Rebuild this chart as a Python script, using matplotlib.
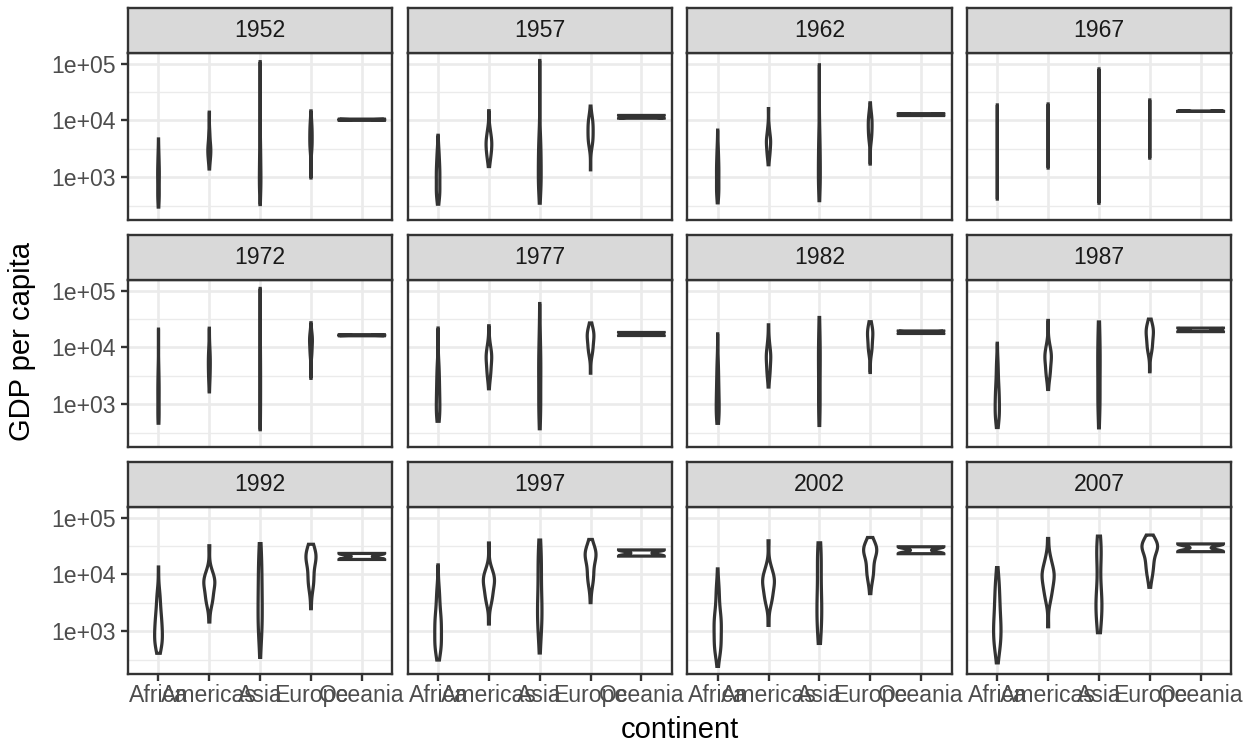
import numpy as np
import matplotlib
matplotlib.use('Agg')
import matplotlib.pyplot as plt
from matplotlib.ticker import FixedLocator, NullFormatter

plt.rcParams['font.family'] = ['Liberation Sans', 'DejaVu Sans']

years = [1952, 1957, 1962, 1967, 1972, 1977, 1982, 1987, 1992, 1997, 2002, 2007]
continents = ['Africa', 'Americas', 'Asia', 'Europe', 'Oceania']
n_countries = [52, 25, 33, 30, 2]

# gdpPercap, per year: min, q10, q25, median, q75, q90, max (read / estimated)
africa = [
    [299, 420, 535, 987, 1455, 2400, 4725],
    [336, 470, 590, 1024, 1600, 2700, 5487],
    [355, 510, 630, 1134, 1770, 3000, 6757],
    [413, 560, 670, 1210, 2120, 3500, 18773],
    [464, 600, 700, 1443, 2300, 4000, 21011],
    [502, 620, 790, 1400, 2600, 4700, 21951],
    [462, 600, 760, 1324, 2500, 4900, 17364],
    [390, 560, 700, 1220, 2100, 4600, 11864],
    [410, 560, 700, 1162, 2000, 4000, 13522],
    [312, 480, 620, 1180, 2000, 4500, 14723],
    [241, 450, 620, 1215, 2000, 5000, 12522],
    [278, 500, 800, 1452, 3200, 7000, 13206],
]
americas = [
    [1398, 1900, 2428, 3048, 3940, 5900, 13990],
    [1544, 2100, 2800, 3781, 4900, 6800, 14847],
    [1662, 2300, 3000, 4086, 5000, 7100, 16173],
    [1452, 2400, 3200, 4643, 5900, 8000, 19530],
    [1654, 2600, 3500, 5186, 7000, 10000, 21806],
    [1874, 3000, 4100, 6281, 7800, 11000, 24073],
    [2011, 3100, 4200, 6435, 8000, 12000, 25010],
    [1823, 3000, 4100, 6360, 7800, 11000, 29884],
    [1456, 3000, 4200, 6618, 8200, 11000, 32004],
    [1342, 3200, 4600, 7114, 9000, 12000, 35767],
    [1270, 3100, 4500, 6995, 9000, 13000, 39097],
    [1202, 3650, 5728, 8948, 11978, 18800, 42952],
]
asia = [
    [331, 600, 750, 1207, 2250, 4000, 108382],
    [350, 650, 800, 1548, 2900, 5000, 113523],
    [388, 700, 850, 1650, 3100, 6000, 95458],
    [349, 700, 900, 2029, 4000, 9000, 80895],
    [357, 700, 1000, 2571, 5000, 12000, 109348],
    [371, 750, 1000, 3195, 6500, 15000, 59265],
    [424, 800, 1200, 4106, 9000, 17000, 33693],
    [385, 850, 1300, 4106, 9000, 20000, 28118],
    [347, 900, 1500, 3726, 10000, 22000, 34932],
    [415, 1000, 1700, 3645, 12000, 25000, 40301],
    [611, 1000, 1800, 4091, 14000, 28000, 36023],
    [944, 1430, 2452, 4471, 22316, 29796, 47306],
]
europe = [
    [973, 3200, 3600, 5142, 7200, 9000, 14734],
    [1354, 3800, 4500, 6443, 9000, 11000, 17909],
    [1710, 4500, 5700, 7875, 10500, 13000, 20431],
    [2172, 5500, 7200, 9935, 12500, 15500, 22966],
    [2860, 7000, 9100, 12269, 15000, 18000, 27195],
    [3528, 7700, 10000, 14226, 18000, 21000, 26982],
    [3630, 8300, 10500, 15322, 19500, 23000, 28398],
    [3739, 8500, 11000, 16216, 21000, 24500, 31541],
    [2497, 6000, 9000, 17550, 22000, 26000, 33966],
    [3193, 7000, 10500, 19596, 24000, 28000, 41283],
    [4604, 8500, 13000, 23674, 29000, 32000, 44684],
    [5937, 10000, 16000, 28054, 33000, 37000, 49357],
]
# Australia, New Zealand
oceania = [
    [10040, 10557], [10950, 12247], [12217, 13176], [14526, 14464],
    [16789, 16046], [18334, 16234], [19477, 17632], [21889, 19007],
    [23425, 18363], [26998, 21050], [30688, 23190], [34435, 25185],
]

groups = [africa, americas, asia, europe, oceania]


def weights_for(vals, n):
    # share of countries each listed value stands for
    if len(vals) == 2:
        return np.array([0.5, 0.5])
    e = 1.0 / n
    return np.array([e, 0.175 - e, 0.2, 0.25, 0.2, 0.175 - e, e])


def density(vals, n):
    lx = np.log10(np.array(vals, dtype=float))
    wt = weights_for(vals, n)
    mean = (wt * lx).sum()
    sd = np.sqrt((wt * (lx - mean) ** 2).sum() * n / (n - 1))
    if len(lx) == 2:
        iqr = abs(lx[1] - lx[0]) / 2
        smooth = 1.0
    else:
        iqr = lx[4] - lx[2]
        smooth = 1.3  # few listed values, so a little extra smoothing
    lo = min(sd, iqr / 1.34)
    if lo == 0:
        lo = sd
    bw = 0.9 * lo * n ** -0.2 * smooth
    grid = np.linspace(lx.min(), lx.max(), 512)
    d = (wt[None, :] * np.exp(-0.5 * ((grid[:, None] - lx[None, :]) / bw) ** 2)).sum(1)
    d = d / (bw * np.sqrt(2 * np.pi))
    return grid, d


all_vals = np.log10(np.concatenate([np.ravel(v) for g in groups for v in g]))
lo, hi = all_vals.min(), all_vals.max()
pad = (hi - lo) * 0.05
ylim = (10 ** (lo - pad), 10 ** (hi + pad))

W, H = 1254, 742
fig = plt.figure(figsize=(W / 100, H / 100), dpi=100)

dark = '#333333'
gridc = '#EBEBEB'

for k, yr in enumerate(years):
    r, c = divmod(k, 4)
    left = 128 + 279.6 * c
    width = 264.3
    strip_top = 7.7 + 227 * r
    strip_bot = strip_top + 45.2
    body_bot = 220 + 227 * r

    ax = fig.add_axes([left / W, 1 - body_bot / H, width / W, (body_bot - strip_bot) / H])
    ax.set_yscale('log')
    ax.set_xlim(0.4, 5.6)
    ax.set_ylim(*ylim)
    ax.set_axisbelow(True)

    dens = [density(g[k], n) for g, n in zip(groups, n_countries)]
    dmax = max(d.max() for _, d in dens)
    for i, (grid, d) in enumerate(dens):
        w = d / dmax * 0.45
        xs = np.concatenate([i + 1 - w, (i + 1 + w)[::-1]])
        ys = 10 ** np.concatenate([grid, grid[::-1]])
        ax.fill(xs, ys, facecolor='white', edgecolor=dark, lw=2.3, zorder=3)

    ax.set_yticks([1e3, 1e4, 1e5])
    ax.set_yticklabels(['1e+03', '1e+04', '1e+05'])
    ax.yaxis.set_minor_locator(FixedLocator([10 ** 2.5, 10 ** 3.5, 10 ** 4.5]))
    ax.yaxis.set_minor_formatter(NullFormatter())
    ax.set_xticks(range(1, 6))
    ax.set_xticklabels(continents)
    ax.grid(which='major', color=gridc, lw=1.9)
    ax.grid(which='minor', axis='y', color=gridc, lw=0.95)
    ax.tick_params(which='minor', length=0)
    ax.tick_params(which='major', length=4.8, width=1.7, color=dark,
                   labelcolor='#4D4D4D', labelsize=16.6)
    ax.tick_params(axis='y', pad=4)
    ax.tick_params(axis='x', pad=2.5)
    if c != 0:
        ax.tick_params(axis='y', length=0, labelleft=False)
    if r != 2:
        ax.tick_params(axis='x', length=0, labelbottom=False)
    for s in ax.spines.values():
        s.set_color(dark)
        s.set_linewidth(1.7)
        s.set_zorder(5)

    sax = fig.add_axes([left / W, 1 - strip_bot / H, width / W, (strip_bot - strip_top) / H])
    sax.set_facecolor('#D9D9D9')
    sax.set_xticks([])
    sax.set_yticks([])
    for s in sax.spines.values():
        s.set_color(dark)
        s.set_linewidth(1.7)
    sax.text(0.5, 0.5, str(yr), ha='center', va='center', fontsize=16.6,
             color='#1A1A1A', transform=sax.transAxes)

fig.text(22 / W, 1 - 341 / H, 'GDP per capita', rotation=90, ha='center', va='center',
         fontsize=21, color='black')
fig.text(680 / W, 1 - 730 / H, 'continent', ha='center', va='center',
         fontsize=21, color='black')

fig.savefig('out.png', dpi=100)
